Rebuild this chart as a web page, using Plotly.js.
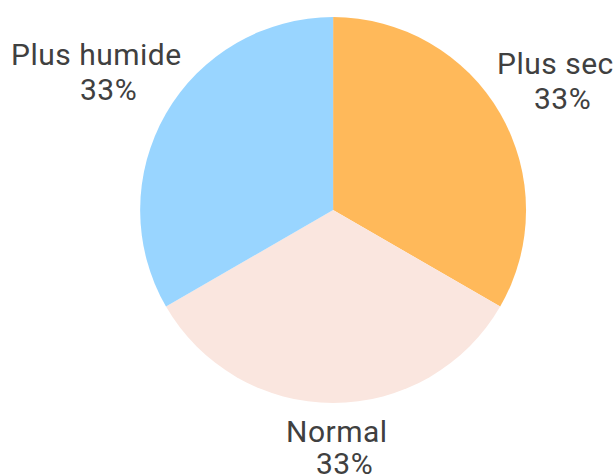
<!DOCTYPE html>
<html>
<head>
<meta charset="utf-8">
<script src="https://cdn.plot.ly/plotly-3.0.1.min.js"></script>
<style>html,body{margin:0;padding:0;background:#fff;}#chart{width:614px;height:475px;}
.annotation-text{letter-spacing:0.5px;}</style>
</head>
<body>
<div id="chart"></div>
<script>
const labels = ["Plus sec", "Normal", "Plus humide"];
const values = [33.3, 33.3, 33.3];
const colors = ["#FFB95A", "#FAE6DF", "#99D5FF"];

// label placement (pixel centres of each text line: name line, percent line)
const namePos = [[555, 63.6], [337, 431.6], [96.5, 54.6]];
const pctPos  = [[562, 98.6], [344, 463.6], [108, 89.6]];

const W = 614, H = 475;
const total = values.reduce((a, b) => a + b, 0);
const font = {family: "Roboto", size: 30, color: "#404040"};

const annotations = [];
labels.forEach((lab, i) => {
  const pct = Math.round(values[i] / total * 100) + "%";
  annotations.push({text: lab, xref: "paper", yref: "paper",
    x: namePos[i][0] / W, y: 1 - namePos[i][1] / H,
    xanchor: "center", yanchor: "middle", showarrow: false, font: font});
  annotations.push({text: pct, xref: "paper", yref: "paper",
    x: pctPos[i][0] / W, y: 1 - pctPos[i][1] / H,
    xanchor: "center", yanchor: "middle", showarrow: false, font: font});
});

const trace = {
  type: "pie",
  labels: labels,
  values: values,
  sort: false,
  direction: "clockwise",
  rotation: 0,
  marker: {colors: colors, line: {width: 0}},
  textinfo: "none",
  hoverinfo: "none",
  showlegend: false,
  domain: {x: [0.228, 0.857], y: [0.1516, 0.964]}
};

Plotly.newPlot("chart", [trace], {
  width: W, height: H,
  margin: {l: 0, r: 0, t: 0, b: 0},
  paper_bgcolor: "#fff",
  showlegend: false,
  annotations: annotations
}, {displayModeBar: false, staticPlot: true});
</script>
</body>
</html>
